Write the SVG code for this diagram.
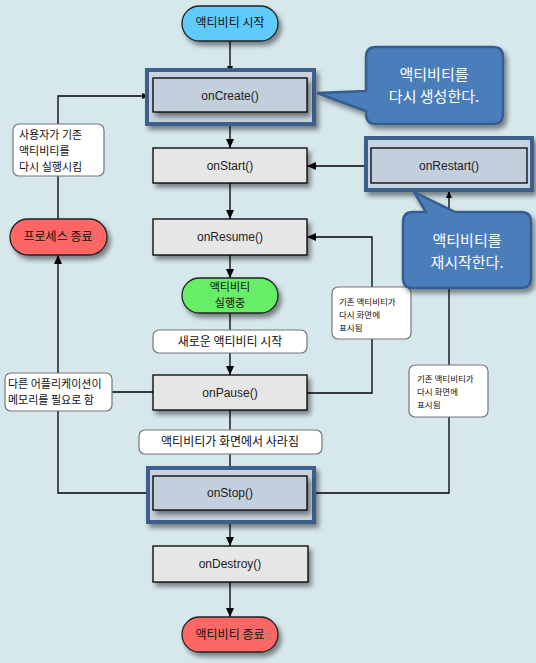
<svg xmlns="http://www.w3.org/2000/svg" width="536" height="663" viewBox="0 0 536 663">
<defs>
<filter id="sh" x="-20%" y="-20%" width="150%" height="160%">
<feDropShadow dx="3" dy="4" stdDeviation="2.5" flood-color="#000" flood-opacity="0.45"/>
</filter>
<marker id="ah" markerWidth="10" markerHeight="10" refX="9" refY="5" orient="auto" markerUnits="userSpaceOnUse">
<path d="M0,1 L9,5 L0,9 Z" fill="#000"/>
</marker>
<marker id="as" markerWidth="8" markerHeight="8" refX="7" refY="4" orient="auto" markerUnits="userSpaceOnUse">
<path d="M0,1 L7,4 L0,7 Z" fill="#000"/>
</marker>
</defs>
<style>
.ln{fill:none;stroke:#000;stroke-width:1.3}
.box{fill:#e6e6e6;stroke:#000;stroke-width:1.3}
.frame{fill:#c7d3de;stroke:#3c5f8c;stroke-width:4}
.inner{fill:#c3cfdc;stroke:#000;stroke-width:1.3}
.lbl{fill:#fff;stroke:#777;stroke-width:1.2}
.t{font-family:"Liberation Sans","Noto Sans CJK KR",sans-serif;font-size:12px;fill:#222;text-anchor:middle}
.k{font-family:"Noto Sans CJK KR","Liberation Sans",sans-serif;font-size:12px;fill:#111}
.m{font-family:"Noto Sans CJK KR","Liberation Sans",sans-serif;font-size:11px;fill:#111}
.s{font-family:"Noto Sans CJK KR","Liberation Sans",sans-serif;font-size:8.5px;fill:#111}
.c{font-family:"Noto Sans CJK KR","Liberation Sans",sans-serif;font-size:15px;fill:#fff;text-anchor:middle}
.callout{fill:#4a7ebb;stroke:#355d8f;stroke-width:2.5}
</style>
<rect width="536" height="663" fill="#d7e8ec"/>

<g id="connectors">
<line class="ln" x1="230" y1="41" x2="230" y2="73" marker-end="url(#as)"/>
<line class="ln" x1="230" y1="124" x2="230" y2="148" marker-end="url(#ah)"/>
<line class="ln" x1="230" y1="183" x2="230" y2="219" marker-end="url(#ah)"/>
<line class="ln" x1="230" y1="255" x2="230" y2="278" marker-end="url(#ah)"/>
<line class="ln" x1="230" y1="313" x2="230" y2="330"/>
<line class="ln" x1="230" y1="353" x2="230" y2="375" marker-end="url(#ah)"/>
<line class="ln" x1="230" y1="410" x2="230" y2="430"/>
<line class="ln" x1="230" y1="454" x2="230" y2="473" marker-end="url(#as)"/>
<line class="ln" x1="230" y1="522" x2="230" y2="546" marker-end="url(#ah)"/>
<line class="ln" x1="230" y1="582" x2="230" y2="617" marker-end="url(#ah)"/>
<polyline class="ln" points="148,493 58,493 58,411"/>
<line class="ln" x1="112" y1="392" x2="153" y2="392"/>
<line class="ln" x1="58" y1="373" x2="58" y2="255" marker-end="url(#ah)"/>
<line class="ln" x1="58" y1="219" x2="58" y2="176"/>
<polyline class="ln" points="58,124 58,96 149,96" marker-end="url(#as)"/>
<line class="ln" x1="366" y1="166" x2="307" y2="166" marker-end="url(#ah)"/>
<polyline class="ln" points="372,287 372,237 307,237" marker-end="url(#ah)"/>
<polyline class="ln" points="307,393 372,393 372,339"/>
<polyline class="ln" points="314,493 449,493 449,417"/>
<line class="ln" x1="449" y1="365" x2="449" y2="191" marker-end="url(#as)"/>
</g>

<g id="start">
<rect x="182" y="6" width="96" height="35" rx="17.5" fill="#5ecbfa" stroke="#222" stroke-width="1.3" filter="url(#sh)"/>
<text class="k" x="230" y="27" text-anchor="middle">액티비티 시작</text>
</g>

<g id="onCreate">
<rect class="frame" x="147" y="70" width="167" height="54" filter="url(#sh)"/>
<rect class="inner" x="153" y="78" width="154" height="34" filter="url(#sh)"/>
<text class="t" x="230" y="100">onCreate()</text>
</g>

<g id="onStart">
<rect class="box" x="153" y="148" width="154" height="35" filter="url(#sh)"/>
<text class="t" x="230" y="170">onStart()</text>
</g>

<g id="onRestart">
<rect class="frame" x="366" y="138" width="166" height="52" filter="url(#sh)"/>
<rect class="inner" x="371" y="148" width="156" height="35"/>
<text class="t" x="449" y="170">onRestart()</text>
</g>

<g id="onResume">
<rect class="box" x="153" y="219" width="154" height="36" filter="url(#sh)"/>
<text class="t" x="230" y="241">onResume()</text>
</g>

<g id="running">
<rect x="182" y="278" width="96" height="35" rx="17.5" fill="#66ee66" stroke="#222" stroke-width="1.3" filter="url(#sh)"/>
<text class="m" x="230" y="291" text-anchor="middle">액티비티</text>
<text class="m" x="230" y="307" text-anchor="middle">실행중</text>
</g>

<g id="lblNew">
<rect class="lbl" x="153" y="330" width="154" height="23" rx="6"/>
<text class="k" x="230" y="346" text-anchor="middle">새로운 액티비티 시작</text>
</g>

<g id="onPause">
<rect class="box" x="153" y="375" width="154" height="35" filter="url(#sh)"/>
<text class="t" x="230" y="397">onPause()</text>
</g>

<g id="lblGone">
<rect class="lbl" x="139" y="430" width="183" height="24" rx="6"/>
<text class="k" x="230" y="446" text-anchor="middle">액티비티가 화면에서 사라짐</text>
</g>

<g id="onStop">
<rect class="frame" x="148" y="468" width="166" height="54" filter="url(#sh)"/>
<rect class="inner" x="153" y="476" width="154" height="34" filter="url(#sh)"/>
<text class="t" x="230" y="497">onStop()</text>
</g>

<g id="onDestroy">
<rect class="box" x="153" y="546" width="155" height="36" filter="url(#sh)"/>
<text class="t" x="230" y="568">onDestroy()</text>
</g>

<g id="end">
<rect x="182" y="617" width="96" height="35" rx="17.5" fill="#ff6666" stroke="#222" stroke-width="1.3" filter="url(#sh)"/>
<text class="k" x="230" y="639" text-anchor="middle">액티비티 종료</text>
</g>

<g id="lblUser">
<rect class="lbl" x="13" y="124" width="91" height="52" rx="6"/>
<text class="m" x="19" y="139">사용자가 기존</text>
<text class="m" x="19" y="155">액티비티를</text>
<text class="m" x="19" y="171">다시 실행시킴</text>
</g>

<g id="procEnd">
<rect x="10" y="219" width="97" height="36" rx="18" fill="#ff6666" stroke="#222" stroke-width="1.3" filter="url(#sh)"/>
<text class="k" x="58" y="241" text-anchor="middle">프로세스 종료</text>
</g>

<g id="lblMem">
<rect class="lbl" x="5" y="373" width="107" height="38" rx="6"/>
<text class="m" x="8" y="388">다른 어플리케이션이</text>
<text class="m" x="8" y="404">메모리를 필요로 함</text>
</g>

<g id="lblShow1">
<rect class="lbl" x="332" y="287" width="79" height="52" rx="6"/>
<text class="s" x="339" y="305">기존 액티비티가</text>
<text class="s" x="339" y="318">다시 화면에</text>
<text class="s" x="339" y="331">표시됨</text>
</g>

<g id="lblShow2">
<rect class="lbl" x="409" y="365" width="79" height="52" rx="6"/>
<text class="s" x="417" y="382">기존 액티비티가</text>
<text class="s" x="417" y="395">다시 화면에</text>
<text class="s" x="417" y="408">표시됨</text>
</g>

<g id="callout1">
<path class="callout" d="M376,47 H493 Q503,47 503,57 V114 Q503,124 493,124 H376 Q366,124 366,114 V111 L317,93 L366,91 V57 Q366,47 376,47 Z" filter="url(#sh)"/>
<text class="c" x="434" y="80">액티비티를</text>
<text class="c" x="434" y="102">다시 생성한다.</text>
</g>

<g id="callout2">
<path class="callout" d="M413,212 H426 L414,192 L455,212 H521 Q531,212 531,222 V278 Q531,288 521,288 H413 Q403,288 403,278 V222 Q403,212 413,212 Z" filter="url(#sh)"/>
<text class="c" x="467" y="246">액티비티를</text>
<text class="c" x="467" y="268">재시작한다.</text>
</g>
</svg>
